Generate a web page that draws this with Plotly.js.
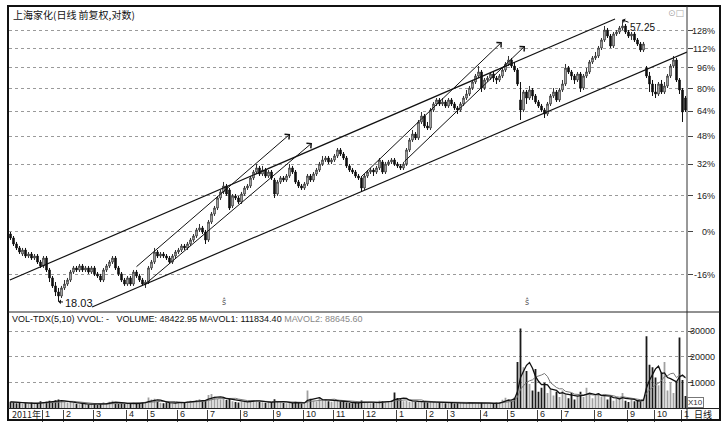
<!DOCTYPE html>
<html><head><meta charset="utf-8">
<script src="https://cdn.plot.ly/plotly-3.0.1.min.js"></script>
<style>body{margin:0;background:#fff}#chart{width:726px;height:428px}</style>
</head><body><div id="chart"></div>
<script>
const chartTitle = '上海家化(日线 前复权,对数)';
const basePrice = 24.0;
const pctTicks = [-16, 0, 16, 32, 48, 64, 80, 96, 112, 128];
const volTicks = [10000, 20000, 30000];
const yearLabel = '2011年';
const monthTickPos = [10.5,17.5,27.5,38.5,45.5,55.5,65.5,76.5,87.5,97.5,107.5,117.5,128.5,138.5,145.5,156.5,165.5,175.5,183.5,194.5,205.5,214.5,223.5];
const monthLabels = ['1','2','3','4','5','6','7','8','9','10','11','12','1','2','3','4','5','6','7','8','9','10','1'];

const openP = [23.80,23.42,22.85,22.48,21.93,22.29,21.75,21.93,21.57,21.75,
21.22,20.88,21.57,20.54,19.88,19.24,18.77,18.46,19.08,19.39,
19.71,20.37,20.71,20.54,20.88,20.54,20.71,20.37,20.71,20.21,
20.04,19.71,20.54,20.88,21.22,21.57,20.71,20.21,19.71,19.39,
19.88,19.39,20.37,20.04,19.71,19.39,19.55,20.71,21.22,22.11,
21.75,21.93,21.75,21.57,21.22,21.75,22.11,22.29,22.66,22.48,
22.85,23.23,23.61,24.20,24.40,24.00,23.23,25.00,25.84,26.48,
27.59,28.28,28.98,28.51,26.70,27.82,27.59,27.14,28.04,28.74,
28.98,29.95,30.69,31.20,30.44,30.94,30.19,30.69,29.70,28.04,
29.46,29.95,29.70,30.19,31.20,30.69,29.46,28.98,28.74,29.22,
30.19,29.70,30.44,30.94,31.71,32.24,32.50,31.98,32.24,32.77,
33.59,33.04,32.50,31.46,30.94,30.69,30.19,29.95,28.74,30.19,
30.69,30.94,30.69,31.20,31.98,30.69,31.71,31.98,32.24,31.71,
31.46,31.20,31.71,33.59,34.99,35.86,35.28,37.67,38.61,37.06,
36.75,39.57,40.56,41.23,40.56,40.89,40.22,41.23,40.56,39.90,
39.57,40.56,41.56,42.25,43.30,44.38,45.49,46.24,43.30,44.75,
45.11,45.86,45.11,44.75,45.49,46.62,47.78,48.57,47.39,46.62,
41.23,39.57,42.60,41.56,42.95,41.91,40.89,40.22,39.57,38.93,
40.56,41.91,42.60,41.23,42.95,44.02,47.00,46.24,45.49,44.75,
45.86,43.30,45.49,46.24,48.17,48.97,49.37,51.02,52.72,54.92,
53.59,51.44,54.03,54.48,55.38,55.83,54.48,53.59,54.03,52.72,
51.86,50.60,47.00,45.49,44.02,42.60,42.25,44.02,42.60,43.66,
45.49,47.39,48.57,44.75,42.95,41.56];

const highP = [24.00,23.61,23.04,22.66,22.48,22.48,22.11,22.11,21.93,21.93,
21.40,21.75,21.75,20.71,20.04,19.55,19.08,19.24,19.71,19.88,
20.54,20.88,20.88,21.05,21.05,20.88,20.88,20.88,20.88,20.37,
20.21,20.71,21.05,21.40,21.75,21.75,20.88,20.37,19.88,20.04,
20.04,20.54,20.54,20.21,19.88,19.71,20.88,21.40,22.48,22.29,
22.11,22.11,21.93,21.75,21.93,22.29,22.48,22.85,22.85,23.04,
23.42,23.80,24.40,24.80,24.60,24.20,25.21,26.05,26.70,27.82,
28.51,29.46,29.22,28.74,28.04,28.04,27.82,28.28,28.98,29.22,
30.19,30.94,31.71,31.46,31.46,31.20,30.94,30.94,29.95,29.70,
30.19,30.19,30.44,31.71,31.46,30.94,29.70,29.22,29.46,30.44,
30.44,30.69,31.20,31.98,32.77,32.77,32.77,32.50,33.04,33.86,
33.86,33.31,32.77,31.71,31.20,30.94,30.44,30.19,30.44,30.94,
31.20,31.20,31.46,32.50,32.24,31.98,32.24,32.50,32.50,31.98,
31.71,31.98,33.86,35.28,36.45,36.16,37.98,39.25,38.93,37.67,
39.90,40.89,41.56,41.56,41.56,41.23,41.56,41.56,40.89,40.22,
40.89,41.91,42.95,43.66,44.75,45.86,47.39,46.62,45.11,45.49,
46.24,46.24,45.49,45.86,47.00,48.17,49.37,48.97,48.17,47.00,
44.38,42.95,42.95,43.66,43.30,42.25,41.23,40.56,39.90,40.89,
42.25,43.30,42.95,43.30,44.75,47.78,47.39,46.62,45.86,46.24,
46.24,45.86,47.00,48.57,49.37,50.19,51.44,53.15,55.83,55.38,
54.03,54.48,54.92,55.83,57.25,56.29,54.92,54.48,54.48,53.15,
52.29,52.29,47.39,46.24,44.75,44.02,44.38,44.75,44.38,45.86,
47.78,49.37,48.97,45.11,43.30,41.91];

const lowP = [23.23,22.66,22.29,21.93,21.75,21.57,21.57,21.40,21.40,21.05,
20.71,20.71,20.37,19.55,19.08,18.46,18.03,18.31,18.92,19.24,
19.55,20.21,20.37,20.37,20.37,20.37,20.21,20.21,20.04,19.88,
19.55,19.55,20.37,20.71,21.05,20.54,20.04,19.55,19.24,19.24,
19.24,19.24,19.88,19.55,19.24,19.08,19.39,20.54,21.05,21.57,
21.57,21.57,21.40,21.05,21.05,21.57,21.93,22.11,22.29,22.29,
22.66,23.04,23.42,24.00,23.80,22.85,23.04,24.80,25.63,26.26,
27.36,28.04,27.82,26.26,26.48,27.36,26.92,26.92,27.82,28.51,
28.74,29.70,30.44,30.19,30.19,29.95,29.95,29.70,27.59,27.82,
29.22,29.46,29.46,29.95,30.44,29.22,28.74,28.51,28.51,28.98,
29.46,29.46,30.19,30.69,31.46,31.98,31.71,31.71,31.98,32.50,
32.77,32.24,31.20,30.69,30.44,29.95,29.70,28.28,28.51,29.95,
30.44,30.19,30.44,30.94,30.44,30.44,31.46,31.71,31.46,31.20,
30.94,30.94,31.46,33.31,34.71,34.99,34.99,37.36,36.75,36.45,
36.45,39.25,40.22,40.22,40.22,39.90,39.90,40.22,39.57,38.93,
39.25,40.22,41.23,41.91,42.95,44.02,45.11,42.60,42.95,44.38,
44.75,44.38,44.02,44.38,45.11,46.24,47.39,47.00,46.24,43.66,
37.98,39.25,40.56,41.23,41.23,40.56,39.90,39.25,38.29,38.61,
40.22,41.56,40.89,40.89,42.60,43.66,45.86,44.75,44.02,44.38,
42.60,42.95,45.11,45.86,47.78,48.57,48.97,50.60,52.29,53.15,
51.02,51.02,53.59,54.03,54.92,54.03,53.15,52.72,52.29,51.44,
50.19,50.19,45.11,42.60,41.91,41.56,41.91,42.25,42.25,43.30,
45.11,47.00,44.38,42.25,37.67,39.25];

const closeP = [23.42,22.85,22.48,22.11,22.29,21.75,21.93,21.57,21.75,21.22,
20.88,21.57,20.54,19.88,19.24,18.77,18.46,19.08,19.39,19.71,
20.37,20.71,20.54,20.88,20.54,20.71,20.37,20.71,20.21,20.04,
19.71,20.54,20.88,21.22,21.57,20.71,20.21,19.71,19.39,19.88,
19.39,20.37,20.04,19.71,19.39,19.55,20.71,21.22,22.11,21.75,
21.93,21.75,21.57,21.22,21.75,22.11,22.29,22.66,22.48,22.85,
23.23,23.61,24.20,24.40,24.00,23.23,25.00,25.84,26.48,27.59,
28.28,28.98,28.04,26.48,27.82,27.59,27.14,28.04,28.74,28.98,
29.95,30.69,31.20,30.44,30.94,30.19,30.69,29.95,28.04,29.46,
29.95,29.70,30.19,31.20,30.69,29.46,28.98,28.74,29.22,30.19,
29.70,30.44,30.94,31.71,32.24,32.50,31.98,32.24,32.77,33.59,
33.04,32.50,31.46,30.94,30.69,30.19,29.95,28.74,30.19,30.69,
30.94,30.69,31.20,32.24,30.69,31.71,31.98,32.24,31.71,31.46,
31.20,31.71,33.59,34.99,35.86,35.28,37.67,38.61,37.06,36.75,
39.57,40.56,41.23,40.56,40.89,40.22,41.23,40.56,39.90,39.57,
40.56,41.56,42.25,43.30,44.38,45.49,46.24,43.30,44.75,45.11,
45.86,45.11,44.75,45.49,46.62,47.78,48.57,47.39,46.62,44.02,
39.57,42.60,41.56,42.95,41.91,40.89,40.22,39.57,38.93,40.56,
41.91,42.60,41.23,42.95,44.02,47.00,46.24,45.49,44.75,45.86,
43.30,45.49,46.24,48.17,48.97,49.37,51.02,52.72,54.92,53.59,
51.44,54.03,54.48,55.38,55.83,54.48,53.59,54.03,52.72,51.86,
50.60,51.86,45.49,44.02,42.60,42.25,44.02,42.60,43.66,45.49,
47.39,48.57,44.75,42.95,39.25,39.57];

const vol = [2600,2400,2000,2200,1800,2100,1900,2300,1700,2000,
2800,2400,2600,3000,2700,3200,3500,2900,2500,2300,
2600,2200,1800,1600,1900,1700,1500,1800,1600,1400,
1700,2400,2100,2600,3000,2200,1900,2100,1800,2000,
1700,2300,1900,2100,2400,2600,4300,3500,3800,2600,
2200,2000,2400,2100,1900,2300,2600,2200,2500,2700,
3000,2800,3300,3600,3100,2900,5200,5600,4600,3800,
3500,4200,3300,3900,2800,2500,2300,2700,2600,2900,
3100,3300,2800,2600,2400,2200,2500,2300,3600,2800,
2300,2100,2000,2400,2200,2600,2100,1900,2000,7000,
3800,3000,2700,4500,3200,3600,2800,2600,3000,3400,
2700,2500,2300,2100,2000,2200,2400,3100,2600,2200,
2000,2300,2100,3000,2800,2400,2600,3200,6200,4100,
3600,2800,3000,2600,2800,2500,2900,2700,2400,2300,
2600,2500,2200,2400,2100,2000,2300,2100,1900,2000,
2200,2400,2000,2300,2100,1900,2500,2200,2000,1800,
2100,1900,2300,2500,3400,4200,3600,3100,4200,18000,
31000,16000,14500,9500,7000,15300,6500,8000,10000,6000,
7500,5000,6500,4500,7000,5500,4000,6000,3500,5000,
6500,4500,8000,5500,4000,5000,6000,4500,5500,3500,
4500,3000,4000,3500,6000,3000,2500,3500,2800,3200,
2600,3800,28000,17000,16000,12000,9000,14000,18000,7000,
10000,6000,10500,27500,11000,4842];

const lowMark = {i: 16, price: 18.03, text: '18.03'};
const highMark = {i: 204, price: 57.25, text: '57.25'};
const channelUpper = {x: [-0.2, 201.5], y: [19.71, 57.46]};
const channelLower = {x: [27.2, 225.5], y: [17.65, 50.19]};
const trendArrows = [
  {x0: 41.5, y0: 20.71, x1: 93.2, y1: 35.86},
  {x0: 44.2, y0: 19.24, x1: 100.5, y1: 34.57},
  {x0: 116.5, y0: 29.95, x1: 163.8, y1: 52.29},
  {x0: 130.8, y0: 31.85, x1: 171.5, y1: 51.44}
];
const infoMarks = [71.2, 172.2];
const volHeader = 'VOL-TDX(5,10) VVOL: -   VOLUME: 48422.95 MAVOL1: 111834.40 ';
const volHeader2 = 'MAVOL2: 88645.60';

const idx = closeP.map((_, i) => i);
function ma(arr, n) {
  return arr.map((_, i) => { const s = Math.max(0, i - n + 1); let t = 0; for (let k = s; k <= i; k++) t += arr[k]; return t / (i - s + 1); });
}
const ma5 = ma(vol, 5), ma10 = ma(vol, 10);
const volColors = idx.map(i => closeP[i] >= openP[i] ? '#a0a0a0' : '#1a1a1a');
const L = Math.log10;
const numFont = {family: 'Liberation Sans, Arial, sans-serif', size: 9, color: '#222'};
const cjkFont = {family: 'Noto Sans CJK SC, sans-serif', size: 10, color: '#111'};

const traces = [
  {type: 'candlestick', x: idx, open: openP, high: highP, low: lowP, close: closeP, xaxis: 'x', yaxis: 'y',
   increasing: {line: {color: '#333', width: 1}, fillcolor: '#ffffff'},
   decreasing: {line: {color: '#111', width: 1}, fillcolor: '#111'},
   hoverinfo: 'skip', showlegend: false},
  {type: 'scatter', mode: 'lines', x: channelUpper.x, y: channelUpper.y, xaxis: 'x', yaxis: 'y', line: {color: '#111', width: 1.2}, hoverinfo: 'skip', showlegend: false},
  {type: 'scatter', mode: 'lines', x: channelLower.x, y: channelLower.y, xaxis: 'x', yaxis: 'y', line: {color: '#111', width: 1.2}, hoverinfo: 'skip', showlegend: false},
  {type: 'bar', x: idx, y: vol, xaxis: 'x2', yaxis: 'y2', marker: {color: volColors, line: {width: 0}}, width: 0.6, hoverinfo: 'skip', showlegend: false},
  {type: 'scatter', mode: 'lines', x: idx, y: ma10, xaxis: 'x2', yaxis: 'y2', line: {color: '#777', width: 1}, hoverinfo: 'skip', showlegend: false},
  {type: 'scatter', mode: 'lines', x: idx, y: ma5, xaxis: 'x2', yaxis: 'y2', line: {color: '#111', width: 1.3}, hoverinfo: 'skip', showlegend: false}
];

const W = 678, H = 413, mL = 9, mT = 7;
const px = x => (x - mL) / W;
const py = y => 1 - (y - mT) / H;

const ann = [];
ann.push({xref: 'paper', yref: 'paper', x: px(11), y: py(15), xanchor: 'left', yanchor: 'middle', text: chartTitle, showarrow: false, font: cjkFont});
ann.push({xref: 'paper', yref: 'paper', x: px(686), y: py(13), xanchor: 'right', yanchor: 'middle', text: '⊙□', showarrow: false, font: {family: 'DejaVu Sans', size: 9, color: '#aaa'}});
pctTicks.forEach(p => ann.push({xref: 'paper', yref: 'y', x: px(717), y: L(basePrice * (1 + p / 100)), xanchor: 'right', yanchor: 'middle', text: p + '%', showarrow: false, font: numFont}));
volTicks.forEach(v => ann.push({xref: 'paper', yref: 'y2', x: px(717), y: v, xanchor: 'right', yanchor: 'middle', text: String(v), showarrow: false, font: numFont}));
ann.push({xref: 'paper', yref: 'paper', x: px(10), y: py(319), xanchor: 'left', yanchor: 'middle',
  text: volHeader + '<span style="color:#888">' + volHeader2 + '</span>', showarrow: false, font: {family: 'Liberation Sans, Arial, sans-serif', size: 9, color: '#111'}});
ann.push({xref: 'paper', yref: 'paper', x: px(695), y: py(402.5), xanchor: 'center', yanchor: 'middle', text: 'X10', showarrow: false,
  font: {family: 'Liberation Sans, Arial', size: 8, color: '#333'}, bordercolor: '#777', borderwidth: 1, borderpad: 0, bgcolor: '#fff'});
ann.push({xref: 'paper', yref: 'paper', x: px(10), y: py(414), xanchor: 'left', yanchor: 'middle', text: yearLabel, showarrow: false, font: {family: 'Noto Sans CJK SC, sans-serif', size: 9, color: '#222'}});
monthTickPos.forEach((t, k) => ann.push({xref: 'x2', yref: 'paper', x: t + 0.4, y: py(414), xanchor: 'left', yanchor: 'middle', text: monthLabels[k], showarrow: false, font: numFont}));
ann.push({xref: 'paper', yref: 'paper', x: px(703), y: py(414), xanchor: 'center', yanchor: 'middle', text: '日线', showarrow: false, font: {family: 'Noto Sans CJK SC, sans-serif', size: 9, color: '#111'}});
ann.push({xref: 'x', yref: 'y', x: lowMark.i, y: L(lowMark.price), text: lowMark.text, showarrow: true, ax: 20, ay: 1,
  arrowhead: 1, arrowsize: 0.8, arrowwidth: 1, arrowcolor: '#111', font: {family: 'Liberation Sans, Arial', size: 11, color: '#111'}});
ann.push({xref: 'x', yref: 'y', x: highMark.i, y: L(highMark.price), text: highMark.text, showarrow: true, ax: 20, ay: 8,
  arrowhead: 1, arrowsize: 0.8, arrowwidth: 1, arrowcolor: '#111', font: {family: 'Liberation Sans, Arial', size: 10, color: '#111'}});
trendArrows.forEach(a => ann.push({xref: 'x', yref: 'y', axref: 'x', ayref: 'y', x: a.x1, y: L(a.y1), ax: a.x0, ay: L(a.y0), text: '',
  showarrow: true, arrowhead: 4, arrowsize: 1.3, arrowwidth: 1, arrowcolor: '#111'}));
infoMarks.forEach(m => ann.push({xref: 'x', yref: 'paper', x: m, y: py(309), text: 'ŝ', showarrow: false, font: {family: 'DejaVu Sans', size: 8, color: '#555'}}));

const xr = [-0.5, 225.5];
const shapes = [
  {type: 'rect', xref: 'paper', yref: 'paper', x0: px(8), x1: px(720), y0: py(420), y1: py(6), line: {color: '#111', width: 2}},
  {type: 'line', xref: 'paper', yref: 'paper', x0: 1, x1: 1, y0: py(420), y1: py(6), line: {color: '#333', width: 1}},
  {type: 'line', xref: 'paper', yref: 'paper', x0: px(8), x1: px(720), y0: py(312), y1: py(312), line: {color: '#222', width: 1}},
  {type: 'line', xref: 'paper', yref: 'paper', x0: px(8), x1: px(720), y0: py(408.5), y1: py(408.5), line: {color: '#222', width: 1}}
];

const layout = {
  width: 726, height: 428, margin: {l: mL, r: 726 - 687, t: mT, b: 428 - 420},
  paper_bgcolor: '#fff', plot_bgcolor: '#fff', showlegend: false, hovermode: false,
  xaxis: {domain: [0, 1], range: xr, anchor: 'y', showticklabels: false, ticks: '', showgrid: false, zeroline: false, rangeslider: {visible: false}, fixedrange: true},
  yaxis: {domain: [py(312), 1], type: 'log', range: [L(17.29), L(60.35)], side: 'right', anchor: 'x',
    tickvals: pctTicks.map(p => basePrice * (1 + p / 100)), showticklabels: false, ticks: 'outside', ticklen: 5, tickcolor: '#444',
    showgrid: true, gridcolor: '#9a9a9a', griddash: 'dot', gridwidth: 1, zeroline: false, showline: false, fixedrange: true},
  xaxis2: {domain: [0, 1], range: xr, anchor: 'y2', tickvals: monthTickPos, showticklabels: false, ticks: 'outside', ticklen: 12, tickcolor: '#444', tickwidth: 1,
    showgrid: false, zeroline: false, showline: false, fixedrange: true},
  yaxis2: {domain: [py(408.5), py(312)], range: [0, 37400], side: 'right', anchor: 'x2', tickvals: volTicks, showticklabels: false,
    ticks: 'outside', ticklen: 5, tickcolor: '#444', showgrid: true, gridcolor: '#9a9a9a', griddash: 'dot', zeroline: false, showline: false, fixedrange: true},
  annotations: ann, shapes: shapes, bargap: 0.3
};
Plotly.newPlot('chart', traces, layout, {displayModeBar: false, staticPlot: true});
</script></body></html>
